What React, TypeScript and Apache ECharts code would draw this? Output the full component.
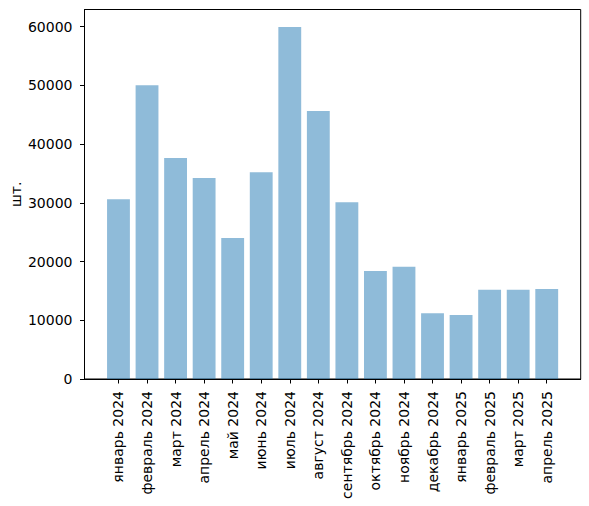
import React, { useEffect, useRef } from "react";
import * as echarts from "echarts";

const categories = [
  "январь 2024", "февраль 2024", "март 2024", "апрель 2024", "май 2024", "июнь 2024",
  "июль 2024", "август 2024", "сентябрь 2024", "октябрь 2024", "ноябрь 2024", "декабрь 2024",
  "январь 2025", "февраль 2025", "март 2025", "апрель 2025",
];
const values = [30600, 50000, 37600, 34200, 24000, 35200, 59900, 45600, 30100, 18400, 19100, 11200, 10900, 15200, 15200, 15300];
const yTicks = [0, 10000, 20000, 30000, 40000, 50000, 60000];
const yLabel = "шт.";

export default function App() {
  const ref = useRef<HTMLDivElement>(null);
  useEffect(() => {
    document.body.style.margin = "0";
    const chart = echarts.init(ref.current!, null, { renderer: "svg" });
    const xMin = -1.19;
    const xMax = categories.length - 1 + 1.19;
    const left = 84.5;
    const right = 8.3;
    const plotW = 589 - left - right;
    const unit = plotW / (xMax - xMin);
    const font = "DejaVu Sans";
    const fs = 14;
    const idx = categories.map((_, i) => i);
    chart.setOption({
      animation: false,
      grid: {
        left, right, top: 9.5, bottom: 127,
        outerBoundsMode: "none",
        containLabel: false,
        show: true, borderColor: "#000", borderWidth: 1, backgroundColor: "transparent",
      },
      xAxis: {
        type: "value",
        min: xMin,
        max: xMax,
        splitLine: { show: false },
        axisLine: { show: true, onZero: false, lineStyle: { color: "#000", width: 1 } },
        axisTick: { show: true, customValues: idx, length: 4.5, lineStyle: { color: "#000" } },
        axisLabel: {
          customValues: idx,
          rotate: 90,
          margin: 12,
          color: "#000",
          fontFamily: font,
          fontSize: fs,
          formatter: (v: number) => categories[Math.round(v)] ?? "",
        },
      },
      yAxis: {
        type: "value",
        min: 0,
        max: Math.max(...values) * 1.05,
        splitLine: { show: false },
        axisLine: { show: true, onZero: false, lineStyle: { color: "#000", width: 1 } },
        axisTick: { show: true, customValues: yTicks, length: 4.5, lineStyle: { color: "#000" } },
        axisLabel: { customValues: yTicks, margin: 12, color: "#000", fontFamily: font, fontSize: fs, formatter: (v: number) => String(v) },
        name: yLabel,
        nameLocation: "middle",
        nameGap: 62,
        nameMoveOverlap: false,
        nameTextStyle: { color: "#000", fontFamily: font, fontSize: fs },
      },
      series: [
        {
          type: "bar",
          data: values.map((v, i) => [i, v]),
          barWidth: unit * 0.8,
          itemStyle: { color: "#1f77b4", opacity: 0.5 },
        },
      ],
    });
    return () => chart.dispose();
  }, []);
  return <div ref={ref} style={{ width: 589, height: 506 }} />;
}
